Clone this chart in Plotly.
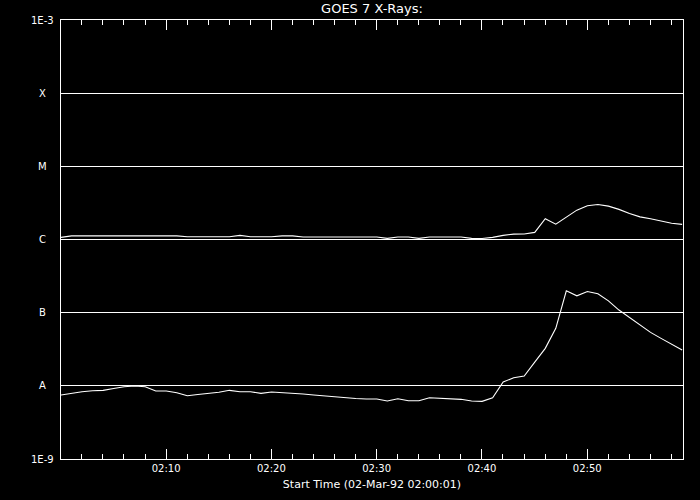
import math
import plotly.graph_objects as go
import pandas as pd

start = pd.Timestamp("1992-03-02 02:00:01")
minutes = list(range(60))
times = [start + pd.Timedelta(minutes=m) for m in minutes]

# GOES 7 low-energy channel (upper curve), W/m^2
long_flux = [
    1.07e-6, 1.12e-6, 1.12e-6, 1.12e-6, 1.12e-6, 1.12e-6, 1.12e-6, 1.12e-6, 1.12e-6, 1.12e-6,
    1.12e-6, 1.12e-6, 1.09e-6, 1.09e-6, 1.09e-6, 1.09e-6, 1.09e-6, 1.14e-6, 1.09e-6, 1.09e-6,
    1.09e-6, 1.12e-6, 1.12e-6, 1.08e-6, 1.08e-6, 1.08e-6, 1.08e-6, 1.08e-6, 1.08e-6, 1.08e-6,
    1.08e-6, 1.035e-6, 1.08e-6, 1.08e-6, 1.035e-6, 1.08e-6, 1.08e-6, 1.08e-6, 1.08e-6, 1.035e-6,
    1.03e-6, 1.07e-6, 1.14e-6, 1.185e-6, 1.19e-6, 1.25e-6, 1.92e-6, 1.62e-6, 2.02e-6, 2.52e-6,
    2.89e-6, 3.01e-6, 2.86e-6, 2.58e-6, 2.27e-6, 2.04e-6, 1.92e-6, 1.80e-6, 1.67e-6, 1.61e-6,
]

# GOES 7 high-energy channel (lower curve), W/m^2
short_flux = [
    7.48e-9, 7.90e-9, 8.30e-9, 8.55e-9, 8.68e-9, 9.18e-9, 9.72e-9, 9.94e-9, 9.72e-9, 8.49e-9,
    8.49e-9, 8.05e-9, 7.32e-9, 7.61e-9, 7.80e-9, 8.15e-9, 8.68e-9, 8.30e-9, 8.30e-9, 7.90e-9,
    8.23e-9, 8.10e-9, 7.90e-9, 7.73e-9, 7.48e-9, 7.25e-9, 7.14e-9, 6.92e-9, 6.71e-9, 6.60e-9,
    6.60e-9, 6.20e-9, 6.66e-9, 6.26e-9, 6.26e-9, 6.88e-9, 6.81e-9, 6.60e-9, 6.54e-9, 6.20e-9,
    6.14e-9, 6.88e-9, 1.127e-8, 1.29e-8, 1.36e-8, 2.11e-8, 3.25e-8, 6.11e-8, 1.99e-7, 1.70e-7,
    1.95e-7, 1.81e-7, 1.45e-7, 1.085e-7, 8.51e-8, 6.71e-8, 5.38e-8, 4.45e-8, 3.72e-8, 3.08e-8,
]

y_tickvals = [1e-9, 1e-8, 1e-7, 1e-6, 1e-5, 1e-4, 1e-3]
y_ticktext = ["1E-9", "A", "B", "C", "M", "X", "1E-3"]

FONT = "DejaVu Sans"
WHITE = "#ffffff"

fig = go.Figure()
fig.add_trace(go.Scatter(x=times, y=long_flux, mode="lines",
                         line=dict(color=WHITE, width=1.1), showlegend=False))
fig.add_trace(go.Scatter(x=times, y=short_flux, mode="lines",
                         line=dict(color=WHITE, width=1.1), showlegend=False))

for v, t in zip(y_tickvals, y_ticktext):
    fig.add_annotation(x=-0.029, xref="paper", xanchor="center",
                       y=math.log10(v), yref="y", yanchor="middle",
                       text=t, showarrow=False,
                       font=dict(family=FONT, size=10, color=WHITE))

fig.update_layout(
    width=700, height=500,
    paper_bgcolor="black", plot_bgcolor="black",
    margin=dict(l=61, r=17, t=20, b=41),
    title=dict(text="GOES 7 X-Rays:", x=0.5, xref="paper", xanchor="center",
               y=0.992, yref="container", yanchor="top",
               font=dict(family=FONT, size=13, color=WHITE)),
    xaxis=dict(
        type="date",
        range=["1992-03-02 02:00:01", "1992-03-02 02:59:06"],
        tick0="1992-03-02 02:00:00", dtick=600000, tickformat="%H:%M",
        ticks="inside", ticklen=10, tickcolor=WHITE, tickwidth=1,
        minor=dict(ticks="inside", ticklen=5, dtick=120000,
                   tick0="1992-03-02 02:00:00", tickcolor=WHITE, showgrid=False),
        showline=True, linecolor=WHITE, linewidth=1, mirror="ticks",
        showgrid=False, zeroline=False,
        tickfont=dict(family=FONT, size=10, color=WHITE),
        title=dict(text="Start Time (02-Mar-92 02:00:01)", standoff=7,
                   font=dict(family=FONT, size=11, color=WHITE)),
    ),
    yaxis=dict(
        type="log", range=[-9, -3],
        tickvals=y_tickvals, showticklabels=False, ticks="",
        showgrid=True, gridcolor=WHITE, gridwidth=1,
        showline=True, linecolor=WHITE, linewidth=1, mirror=True,
        zeroline=False,
    ),
)

fig.write_html("out.html", config={"displayModeBar": False},
               post_script="document.body.style.margin='0';")
